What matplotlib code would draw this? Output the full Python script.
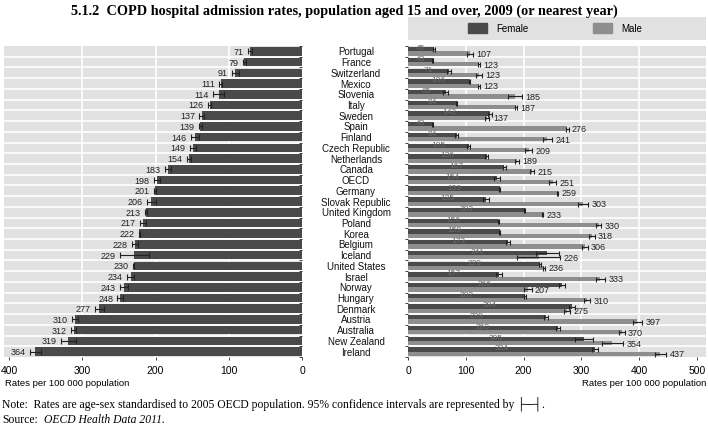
import matplotlib.pyplot as plt
import matplotlib.transforms as mtransforms
from matplotlib.patches import Rectangle

countries = ["Portugal", "France", "Switzerland", "Mexico", "Slovenia", "Italy", "Sweden",
             "Spain", "Finland", "Czech Republic", "Netherlands", "Canada", "OECD", "Germany",
             "Slovak Republic", "United Kingdom", "Poland", "Korea", "Belgium", "Iceland",
             "United States", "Israel", "Norway", "Hungary", "Denmark", "Austria", "Australia",
             "New Zealand", "Ireland"]

# total (both sexes)
total = [71, 79, 91, 111, 114, 126, 137, 139, 146, 149, 154, 183, 198, 201, 206, 213, 217,
         222, 228, 229, 230, 234, 243, 248, 277, 310, 312, 319, 364]
total_ci = [3, 2, 5, 2, 8, 2, 3, 2, 6, 4, 3, 4, 4, 1, 6, 1, 4, 1, 4, 20, 1, 5, 5, 4, 6, 4, 3, 10, 7]

female = [45, 43, 71, 106, 65, 84, 142, 43, 84, 105, 136, 167, 154, 159, 135, 202, 156, 159,
          173, 241, 229, 157, 266, 202, 284, 239, 260, 305, 324]
female_ci = [2, 1, 3, 1, 5, 1, 3, 1, 3, 2, 2, 2, 5, 1, 5, 1, 1, 1, 3, 20, 2, 5, 5, 2, 5, 3, 3, 16, 5]

male = [107, 123, 123, 123, 185, 187, 137, 276, 241, 209, 189, 215, 251, 259, 303, 233, 330,
        318, 306, 226, 236, 333, 207, 310, 275, 397, 370, 354, 437]
male_ci = [5, 2, 5, 2, 12, 2, 4, 2, 8, 6, 3, 4, 6, 1, 9, 1, 4, 5, 5, 37, 2, 8, 7, 5, 5, 8, 5, 18, 10]

left_ticks = [0, 100, 200, 300, 400]
right_ticks = [0, 100, 200, 300, 400, 500]

dark = "#4a4a4a"
light = "#8e8e8e"
bg = "#e1e1e1"
sans = ["Liberation Sans", "DejaVu Sans"]
serif = ["Liberation Serif", "DejaVu Serif", "DejaVu Sans"]

fig = plt.figure(figsize=(7.08, 4.27), dpi=100)
W, H = 708.0, 427.0
top_px, bot_px = 47, 358
ax_l = fig.add_axes([4 / W, 1 - bot_px / H, 298 / W, (bot_px - top_px) / H])
ax_r = fig.add_axes([408 / W, 1 - bot_px / H, 298 / W, (bot_px - top_px) / H])

n = len(countries)
ypos = list(range(n))

for ax in (ax_l, ax_r):
    ax.set_facecolor(bg)
    for s in ax.spines.values():
        s.set_visible(False)
    ax.set_ylim(n - 0.5, -0.5)
    ax.set_yticks([i + 0.5 for i in range(-1, n)])
    ax.set_yticklabels([])
    ax.tick_params(axis="y", length=2, width=0.6, color="#222222")
    ax.tick_params(axis="x", length=2, width=0.6, color="#222222", labelsize=7.5, pad=4)
    for i in range(n - 1):
        ax.axhline(i + 0.5, color="white", lw=1.2, zorder=1)

# left panel: total
ax_l.set_xlim(407, 0)
ax_l.set_xticks(left_ticks)
for t in left_ticks[1:-1]:
    ax_l.axvline(t, color="white", lw=1.2, zorder=1)
ax_l.barh(ypos, total, height=0.8, color=dark, zorder=2)
ax_l.errorbar(total, ypos, xerr=total_ci, fmt="none", ecolor="#222222",
              elinewidth=0.8, capsize=2, capthick=0.8, zorder=3)
for i, v in enumerate(total):
    ax_l.text(v + total_ci[i] + 6, i, str(v), ha="right", va="center", fontsize=6.5,
              family=sans, color="#222222")
ax_l.yaxis.tick_right()
ax_l.tick_params(axis="y", direction="in")

# right panel: female / male
ax_r.set_xlim(0, 516)
ax_r.set_xticks(right_ticks)
for t in right_ticks[1:-1]:
    ax_r.axvline(t, color="white", lw=1.2, zorder=1)
yf = [y - 0.2 for y in ypos]
ym = [y + 0.2 for y in ypos]
ax_r.barh(yf, female, height=0.4, color=dark, zorder=2)
ax_r.barh(ym, male, height=0.4, color=light, zorder=2)
ax_r.errorbar(female, yf, xerr=female_ci, fmt="none", ecolor="#222222",
              elinewidth=0.8, capsize=1.8, capthick=0.8, zorder=3)
ax_r.errorbar(male, ym, xerr=male_ci, fmt="none", ecolor="#222222",
              elinewidth=0.8, capsize=1.8, capthick=0.8, zorder=3)
for i in range(n):
    ax_r.text(female[i] / 2, yf[i] - 0.15, str(female[i]), ha="center", va="center",
              fontsize=6, family=sans, color="#6a6a6a", zorder=4)
    ax_r.text(male[i] + male_ci[i] + 6, ym[i], str(male[i]), ha="left", va="center",
              fontsize=6.5, family=sans, color="#222222", zorder=4)

for ax in (ax_l, ax_r):
    for lab in ax.get_xticklabels():
        lab.set_family(sans)

# country names between the panels
tr = mtransforms.blended_transform_factory(fig.transFigure, ax_r.transData)
for i, c in enumerate(countries):
    fig.text(356 / W, i, c, transform=tr, ha="center", va="center", fontsize=7,
             family=sans, color="#111111")

fig.text(5 / W, 1 - 384 / H, "Rates per 100 000 population", ha="left", va="center",
         fontsize=6.8, family=sans)
fig.text(706 / W, 1 - 384 / H, "Rates per 100 000 population", ha="right", va="center",
         fontsize=6.8, family=sans)

# legend strip
ax_leg = fig.add_axes([408 / W, 1 - 41 / H, 298 / W, 23 / H])
ax_leg.set_facecolor(bg)
ax_leg.set_xlim(0, 1)
ax_leg.set_ylim(0, 1)
ax_leg.set_xticks([])
ax_leg.set_yticks([])
for s in ax_leg.spines.values():
    s.set_visible(False)
for x0, col, lab in [(0.20, dark, "Female"), (0.62, light, "Male")]:
    ax_leg.add_patch(Rectangle((x0, 0.3), 0.065, 0.42, color=col))
    ax_leg.text(x0 + 0.095, 0.5, lab, ha="left", va="center", fontsize=7, family=sans)

fig.text(344 / W, 1 - 11 / H,
         "5.1.2  COPD hospital admission rates, population aged 15 and over, 2009 (or nearest year)",
         ha="center", va="center", fontsize=10.3, fontweight="bold", family=serif)
fig.text(2 / W, 1 - 404 / H,
         "Note:  Rates are age-sex standardised to 2005 OECD population. 95% confidence intervals are represented by \u251c\u2500\u2524.",
         ha="left", va="center", fontsize=8.4, family=serif)
fig.text(2 / W, 1 - 420 / H, "Source:", ha="left", va="center", fontsize=8.4, family=serif)
fig.text(44 / W, 1 - 420 / H, "OECD Health Data 2011.", ha="left", va="center",
         fontsize=8.4, family=serif, style="italic")

fig.savefig("out.png", dpi=100)
